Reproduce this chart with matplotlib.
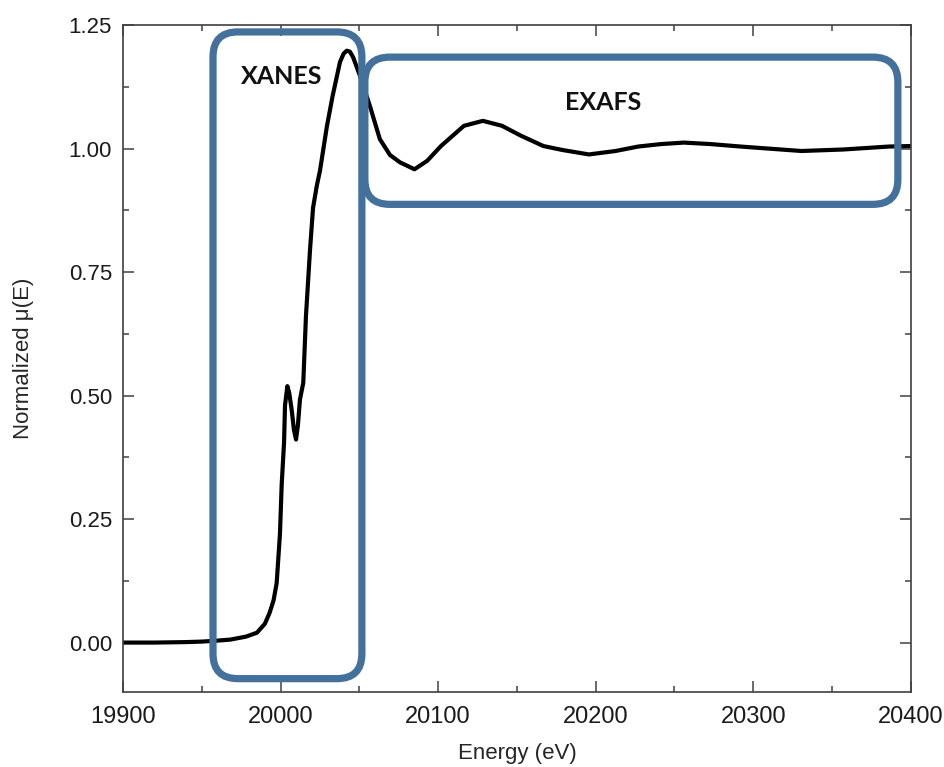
import numpy as np
import matplotlib.pyplot as plt
from matplotlib.patches import FancyBboxPatch
from matplotlib.ticker import MultipleLocator

# 读图得到的归一化吸收谱
energy = [19900, 19920, 19940, 19950, 19960, 19968, 19978, 19985, 19990, 19993,
          19995.5, 19997.5, 19999.6, 20000.7, 20002.2, 20002.8, 20004.3, 20005.5,
          20007, 20008.5, 20009.8, 20011, 20012.3, 20014.4, 20016.1, 20018.7,
          20020.6, 20023, 20025, 20029.4, 20033, 20037.7, 20040, 20042, 20044,
          20046, 20050.4, 20056.7, 20063, 20069.4, 20075.8, 20085, 20093, 20101.8,
          20116.4, 20128.4, 20140.5, 20152.5, 20166.8, 20178.9, 20195.7, 20212.6,
          20227, 20241.5, 20256, 20272.8, 20292, 20309, 20330.6, 20357, 20386, 20400]
mu = [0.000, 0.000, 0.001, 0.002, 0.004, 0.006, 0.012, 0.020, 0.038, 0.060,
      0.085, 0.120, 0.220, 0.320, 0.405, 0.480, 0.519, 0.505,
      0.472, 0.430, 0.411, 0.440, 0.492, 0.526, 0.661, 0.796,
      0.880, 0.925, 0.955, 1.045, 1.106, 1.175, 1.192, 1.198, 1.196,
      1.185, 1.147, 1.086, 1.019, 0.987, 0.972, 0.958, 0.975, 1.005,
      1.046, 1.056, 1.046, 1.026, 1.005, 0.997, 0.988, 0.995,
      1.004, 1.009, 1.012, 1.009, 1.004, 1.000, 0.995, 0.998, 1.004, 1.005]

x_ticks = [19900, 20000, 20100, 20200, 20300, 20400]
y_ticks = [0.00, 0.25, 0.50, 0.75, 1.00, 1.25]

# 区域框 (x0, x1, y0, y1)
xanes_box = (19957.1, 20051.6, -0.073, 1.236)
exafs_box = (20053.5, 20391.8, 0.887, 1.185)

plt.rcParams['font.family'] = ['Liberation Sans', 'DejaVu Sans']
fig = plt.figure(figsize=(9.45, 7.67), dpi=100)
ax = fig.add_axes([0.1302, 0.0978, 0.8336, 0.8696])

ax.plot(energy, mu, color='black', lw=3.0, solid_joinstyle='round')

ax.set_xlim(19900, 20400)
ax.set_ylim(-0.1, 1.25)
ax.set_xticks(x_ticks)
ax.set_yticks(y_ticks)
ax.set_yticklabels(['{:.2f}'.format(v) for v in y_ticks])
ax.xaxis.set_minor_locator(MultipleLocator(50))
ax.yaxis.set_minor_locator(MultipleLocator(0.125))
ax.tick_params(which='both', direction='in', top=True, right=True,
               color='#404040', width=1.1)
ax.tick_params(which='major', length=8)
ax.tick_params(which='minor', length=4)
ax.tick_params(axis='x', labelsize=17, labelcolor='#1a1a1a', pad=10)
ax.tick_params(axis='y', labelsize=16, labelcolor='#1a1a1a', pad=8)
for sp in ax.spines.values():
    sp.set_color('#404040')
    sp.set_linewidth(1.2)

ax.set_xlabel('Energy (eV)', fontsize=16, color='#262626', labelpad=11)
ax.set_ylabel('Normalized μ(E)', fontsize=16, color='#262626', labelpad=25)

# 圆角框: 用 mutation_aspect 让圆角在像素上近似为圆
px_x = 500 / (0.8336 * 945)
px_y = 1.35 / (0.8696 * 767)
aspect = px_y / px_x
radius = 25 * px_x
for x0, x1, y0, y1 in [xanes_box, exafs_box]:
    box = FancyBboxPatch((x0, y0), x1 - x0, y1 - y0,
                         boxstyle='round,pad=0,rounding_size={}'.format(radius),
                         mutation_aspect=aspect, fill=False,
                         edgecolor='#44709c', linewidth=5.2, clip_on=False,
                         zorder=3)
    ax.add_patch(box)

ax.text(20000.9, 1.145, 'XANES', fontsize=18, fontweight='bold',
        family=['Lato', 'DejaVu Sans'], ha='center', va='center', color='#111111')
ax.text(20204.6, 1.094, 'EXAFS', fontsize=18, fontweight='bold',
        family=['Lato', 'DejaVu Sans'], ha='center', va='center', color='#111111')

fig.savefig('out.png', dpi=100)
